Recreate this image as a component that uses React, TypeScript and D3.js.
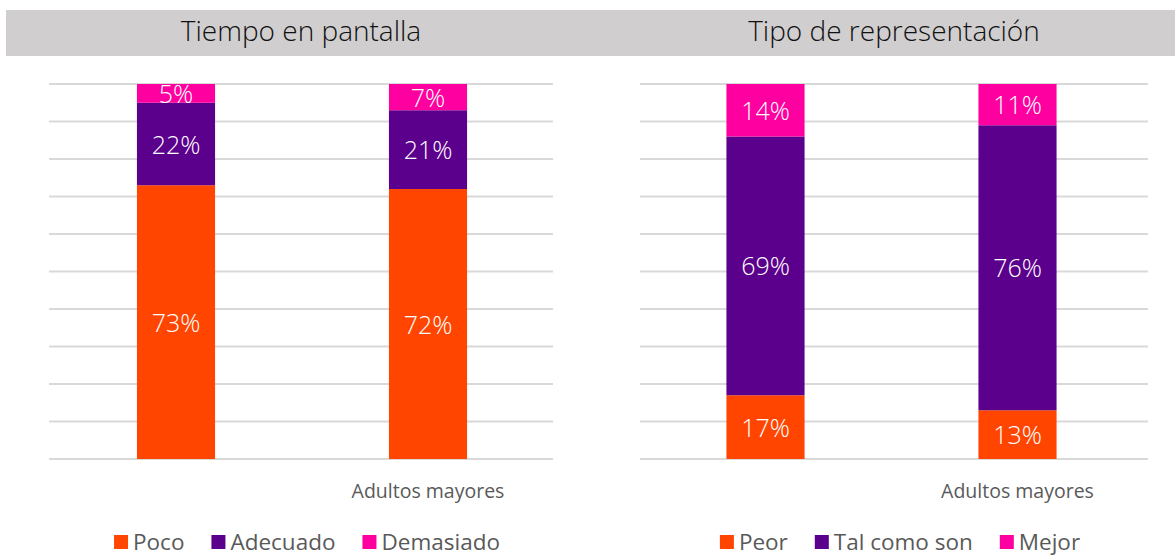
import React, { useRef, useEffect } from "react";
import * as d3 from "d3";

/* categories (first one has no visible label) */
const CATEGORIES = ["", "Adultos mayores"];

/* panel 1: Tiempo en pantalla */
const TIEMPO_SERIES = ["Poco", "Adecuado", "Demasiado"];
const TIEMPO_POCO = [73, 72];
const TIEMPO_ADECUADO = [22, 21];
const TIEMPO_DEMASIADO = [5, 7];

/* panel 2: Tipo de representación */
const TIPO_SERIES = ["Peor", "Tal como son", "Mejor"];
const TIPO_PEOR = [17, 13];
const TIPO_TAL = [69, 76];
const TIPO_MEJOR = [14, 11];

const COLORS = ["#FF4500", "#5B008C", "#FF00A0"];
const FONT = "'Open Sans', 'Noto Sans', sans-serif";

const W = 1175;
const H = 557;

type Panel = {
  title: string;
  series: string[];
  values: number[][];
  x0: number;
  x1: number;
  band: [number, number];
};

export default function App() {
  const svgRef = useRef<SVGSVGElement>(null);

  useEffect(() => {
    const svg = d3.select(svgRef.current);
    svg.selectAll("*").remove();

    /* ---- header band ---- */
    svg
      .append("rect")
      .attr("x", 6)
      .attr("y", 10)
      .attr("width", W - 6)
      .attr("height", 46)
      .attr("fill", "#D0CECF");

    const panels: Panel[] = [
      {
        title: "Tiempo en pantalla",
        series: TIEMPO_SERIES,
        values: [TIEMPO_POCO, TIEMPO_ADECUADO, TIEMPO_DEMASIADO],
        x0: 49,
        x1: 553,
        band: [50, 554],
      },
      {
        title: "Tipo de representación",
        series: TIPO_SERIES,
        values: [TIPO_PEOR, TIPO_TAL, TIPO_MEJOR],
        x0: 640,
        x1: 1148,
        band: [639.5, 1143.5],
      },
    ];

    const top = 84;
    const bottom = 459;

    const y = d3.scaleLinear().domain([0, 100]).range([bottom, top]);

    panels.forEach((p) => {
      const g = svg.append("g");
      const cx = (p.x0 + p.x1) / 2;

      /* ---- title ---- */
      g.append("text")
        .attr("x", cx)
        .attr("y", 41)
        .attr("text-anchor", "middle")
        .attr("fill", "#111")
        .style("font-family", FONT)
        .style("font-size", "28px")
        .style("font-weight", 300)
        .text(p.title);

      /* ---- gridlines ---- */
      g.append("g")
        .selectAll("line")
        .data(y.ticks(10))
        .enter()
        .append("line")
        .attr("x1", p.x0)
        .attr("x2", p.x1)
        .attr("y1", (d) => y(d))
        .attr("y2", (d) => y(d))
        .attr("stroke", "#D9D9D9")
        .attr("stroke-width", 2);

      /* ---- bars ---- */
      const x = d3
        .scaleBand()
        .domain(CATEGORIES.map((_, i) => String(i)))
        .range(p.band)
        .paddingInner(0.69)
        .paddingOuter(0.345);

      const rows = CATEGORIES.map((c, i) => {
        const r: any = { key: String(i) };
        p.series.forEach((s, k) => (r[s] = p.values[k][i]));
        return r;
      });
      const stacked = d3.stack().keys(p.series)(rows);

      stacked.forEach((layer, k) => {
        const lg = g.append("g");
        lg.selectAll("rect")
          .data(layer)
          .enter()
          .append("rect")
          .attr("x", (d: any) => x(d.data.key)!)
          .attr("width", x.bandwidth())
          .attr("y", (d) => y(d[1]))
          .attr("height", (d) => y(d[0]) - y(d[1]))
          .attr("fill", COLORS[k]);

        lg.selectAll("text")
          .data(layer)
          .enter()
          .append("text")
          .attr("x", (d: any) => x(d.data.key)! + x.bandwidth() / 2)
          .attr("y", (d) => (y(d[0]) + y(d[1])) / 2)
          .attr("dy", "0.38em")
          .attr("text-anchor", "middle")
          .attr("fill", "#fff")
          .style("font-family", FONT)
          .style("font-size", "25px")
          .style("font-weight", 300)
          .text((d) => `${d[1] - d[0]}%`);
      });

      /* ---- category labels ---- */
      g.append("g")
        .selectAll("text")
        .data(CATEGORIES)
        .enter()
        .append("text")
        .attr("x", (_, i) => x(String(i))! + x.bandwidth() / 2)
        .attr("y", 498)
        .attr("text-anchor", "middle")
        .attr("fill", "#595959")
        .style("font-family", FONT)
        .style("font-size", "19.5px")
        .text((d) => d);

      /* ---- legend ---- */
      const leg = g.append("g");
      const items = leg
        .selectAll("g")
        .data(p.series)
        .enter()
        .append("g");
      items
        .append("rect")
        .attr("width", 14)
        .attr("height", 14)
        .attr("y", 535)
        .attr("fill", (_, k) => COLORS[k]);
      const labels = items
        .append("text")
        .attr("x", 19)
        .attr("y", 550)
        .attr("fill", "#595959")
        .style("font-family", FONT)
        .style("font-size", "22.5px")
        .text((d) => d);

      const widths: number[] = [];
      labels.each(function () {
        widths.push((this as SVGTextElement).getComputedTextLength());
      });
      const gap = 27;
      const total =
        d3.sum(widths.map((w) => 19 + w)) + gap * (widths.length - 1);
      let cur = cx + 6 - total / 2;
      items.each(function (_, k) {
        d3.select(this).attr("transform", `translate(${cur},0)`);
        cur += 19 + widths[k] + gap;
      });
    });
  }, []);

  return (
    <svg
      ref={svgRef}
      width={W}
      height={H}
      style={{ position: "absolute", left: 0, top: 0, background: "#fff" }}
    />
  );
}
